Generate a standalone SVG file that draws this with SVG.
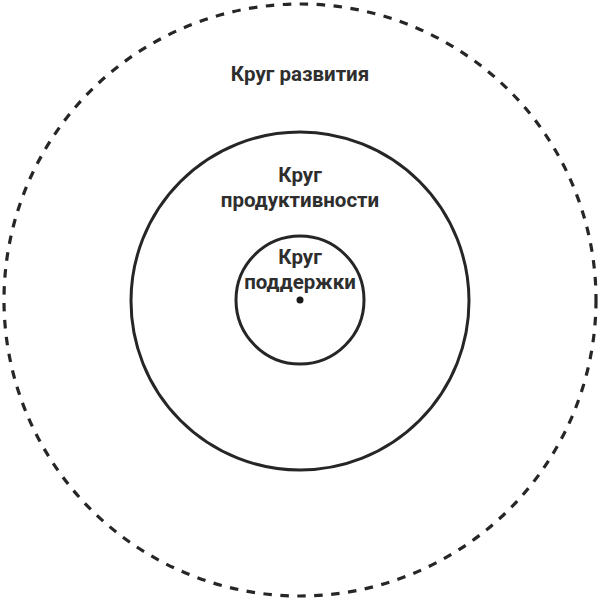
<svg xmlns="http://www.w3.org/2000/svg" width="600" height="600" viewBox="0 0 600 600">
<style>
.ring{fill:none;stroke:#262626;stroke-width:3}
.dash{stroke-dasharray:8.5 8.5;stroke-width:3.2}
.lbl{font-family:Roboto,"Liberation Sans",sans-serif;font-weight:bold;font-size:20.5px;fill:#2e2e2e;text-anchor:middle}
</style>
<rect width="600" height="600" fill="#ffffff"/>
<g id="outer">
<circle class="ring dash" cx="300" cy="300" r="296"/>
<text class="lbl" x="300" y="81">Круг развития</text>
</g>
<g id="middle">
<circle class="ring" cx="300" cy="301" r="169"/>
<text class="lbl" x="300" y="182">Круг</text>
<text class="lbl" x="300" y="207">продуктивности</text>
</g>
<g id="inner">
<circle class="ring" cx="300" cy="300" r="64"/>
<text class="lbl" x="300" y="264">Круг</text>
<text class="lbl" x="300" y="289">поддержки</text>
<circle cx="300" cy="300" r="3.5" fill="#1a1a1a"/>
</g>
<g id="connectors"></g>
</svg>
